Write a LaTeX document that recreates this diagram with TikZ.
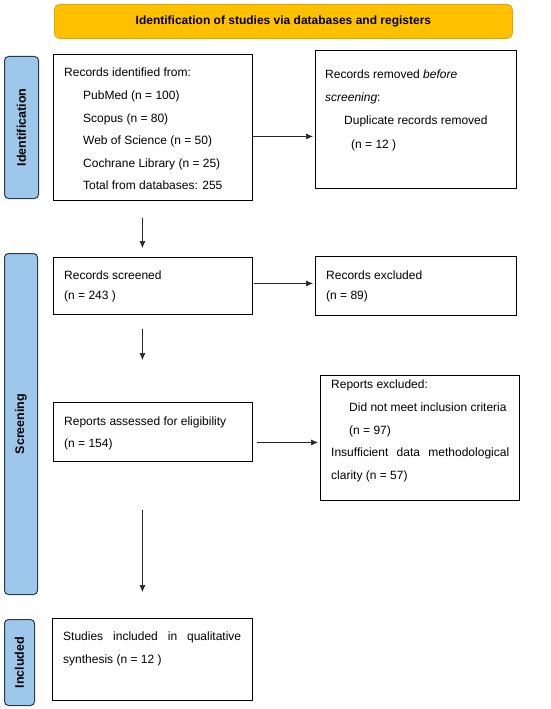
\documentclass[tikz,border=0pt]{standalone}
\usepackage{fontspec}
\setmainfont{Liberation Sans}
\usetikzlibrary{arrows.meta}
\definecolor{bannerfill}{HTML}{FFC000}
\definecolor{bannerline}{HTML}{E0A800}
\definecolor{sidefill}{HTML}{9DC8EC}
\definecolor{sideline}{HTML}{2B3A4A}
\begin{document}
\begin{tikzpicture}[x=1pt,y=-1pt,
  box/.style={draw=black, line width=0.9pt, inner sep=0pt, anchor=north west},
  side/.style={draw=sideline, fill=sidefill, line width=1pt, rounded corners=4pt, inner sep=0pt, anchor=north west},
  txt/.style={anchor=base west, inner sep=0pt, font=\fontsize{12}{14}\selectfont},
  sidetxt/.style={rotate=90, font=\bfseries\fontsize{12.5}{14}\selectfont, inner sep=0pt},
  arr/.style={-{Latex[length=7pt,width=6pt]}, line width=0.7pt, draw=black!85},
]
\useasboundingbox (0,0) rectangle (550,709);

% banner
\node[draw=bannerline, fill=bannerfill, line width=0.8pt, rounded corners=5pt, anchor=north west,
  minimum width=458, minimum height=34, inner sep=0pt, font=\bfseries\fontsize{12}{14}\selectfont]
  (banner) at (54,4) {Identification of studies via databases and registers};

% side labels
\node[side, minimum width=34, minimum height=142] (sid) at (4,56) {};
\node[sidetxt] (sidt) at (sid.center) {Identification};
\node[side, minimum width=33, minimum height=341] (ssc) at (4,253) {};
\node[sidetxt] (ssct) at (ssc.center) {Screening};
\node[side, minimum width=30, minimum height=86] (sin) at (4,619) {};
\node[sidetxt] (sint) at (sin.center) {Included};

% boxes
\node[box, minimum width=199, minimum height=146] (b1) at (53,54) {};
\node[box, minimum width=201, minimum height=138] (rm) at (315,50) {};
\node[box, minimum width=199, minimum height=57] (scr) at (53,257) {};
\node[box, minimum width=201, minimum height=59] (exc) at (315,256) {};
\node[box, minimum width=199, minimum height=59] (ass) at (53,402) {};
\node[box, minimum width=199, minimum height=125] (rex) at (320,375) {};
\node[box, minimum width=200, minimum height=82] (inc) at (52,618) {};

% texts box 1
\node[txt] (t11) at (64,77) {Records identified from:};
\node[txt] (t12) at (83,99) {PubMed (n = 100)};
\node[txt] (t13) at (83,122) {Scopus (n = 80)};
\node[txt] (t14) at (83,144) {Web of Science (n = 50)};
\node[txt] (t15) at (83,167) {Cochrane Library (n = 25)};
\node[txt] (t16) at (83,189) {Total from databases: 255};

% removed
\node[txt] (t21) at (325,78) {Records removed \textit{before}};
\node[txt] (t22) at (325,101) {\textit{screening}:};
\node[txt] (t23) at (344,124) {Duplicate records removed};
\node[txt] (t24) at (351,148) {(n = 12 )};

% screened
\node[txt] (t31) at (64,279) {Records screened};
\node[txt] (t32) at (64,299) {(n = 243 )};

% excluded
\node[txt] (t41) at (326,279) {Records excluded};
\node[txt] (t42) at (326,299) {(n = 89)};

% assessed
\node[txt] (t51) at (64,425) {Reports assessed for eligibility};
\node[txt] (t52) at (64,447) {(n = 154)};

% reports excluded
\node[txt] (t61) at (331,388) {Reports excluded:};
\node[txt] (t62) at (349,411) {Did not meet inclusion criteria};
\node[txt] (t63) at (349,434) {(n = 97)};
\node[txt] (t64) at (331,456) {\makebox[178pt][s]{Insufficient data methodological}};
\node[txt] (t65) at (331,479) {clarity (n = 57)};

% included
\node[txt] (t71) at (63,640) {\makebox[178pt][s]{Studies included in qualitative}};
\node[txt] (t72) at (63,663) {synthesis (n = 12 )};

% arrows
\coordinate (a1) at ([yshift=-9pt]b1.east);
\draw[arr, shorten >=2pt] (a1) -- (a1 -| rm.west);
\coordinate (a2) at ([yshift=2.5pt]scr.east);
\draw[arr, shorten <=1pt, shorten >=2pt] (a2) -- (a2 -| exc.west);
\coordinate (a3) at ([yshift=-10.5pt]ass.east);
\draw[arr, shorten <=4pt, shorten >=2pt] (a3) -- (a3 -| rex.west);

\coordinate (v1) at ([xshift=-10.5pt]b1.south);
\draw[arr, shorten <=17pt, shorten >=9pt] (v1) -- (v1 |- scr.north);
\coordinate (v2) at ([xshift=-10.5pt]scr.south);
\draw[arr, shorten <=14pt, shorten >=42pt] (v2) -- (v2 |- ass.north);
\coordinate (v3) at ([xshift=-10.5pt]ass.south);
\draw[arr, shorten <=48pt, shorten >=26pt] (v3) -- (v3 |- inc.north);
\end{tikzpicture}
\end{document}
